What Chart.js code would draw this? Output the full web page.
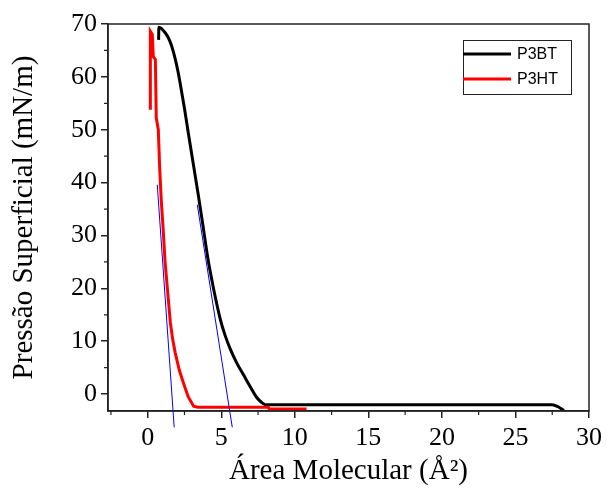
<!DOCTYPE html>
<html>
  <head>
    <meta charset="utf-8" />
    <title>Isotermas P3BT / P3HT</title>
    <style>
      body { margin: 0; background: #fff; }
      #screen { display: block; }
    </style>
  </head>
  <body>
    <canvas id="screen" width="607" height="493"></canvas>
    <script src="https://cdn.jsdelivr.net/npm/chart.js@4.4.1/dist/chart.umd.min.js"></script>
    <script>
      // valores
      const p3btArea = [0.74, 0.76, 1.2, 1.5, 1.76, 2.0, 2.2, 2.5, 2.76, 3.1, 3.43, 3.75, 4.1, 4.4, 4.65, 4.93, 5.25, 5.6, 6.05, 6.5, 6.95, 7.4, 7.75, 8.0, 10, 15, 20, 25, 27.5, 27.9, 28.3];
      const p3btPressure = [67, 69.4, 68.3, 66.8, 64.6, 61.8, 58.9, 54, 49.4, 43.5, 37.8, 32, 25.5, 21, 17.6, 14.2, 11.2, 8.6, 5.9, 3.7, 1.5, -0.6, -1.6, -2.0, -2.0, -2.0, -2.0, -2.0, -2.0, -2.4, -3.1];

      const p3htArea = [0.18, 0.18, 0.31, 0.38, 0.52, 0.58, 0.72, 0.81, 0.92, 1.04, 1.18, 1.35, 1.54, 1.7, 1.87, 2.15, 2.44, 2.75, 3.12, 3.4, 8.2, 8.25, 10.8];
      const p3htPressure = [53.8, 68.6, 68.0, 63.8, 63.3, 52.3, 50, 43, 36.7, 31.6, 25, 19.5, 13.5, 10.3, 7.8, 4.5, 2.0, -0.5, -2.3, -2.5, -2.5, -2.8, -2.8];

      // retas tangentes (extrapolacao)
      const tangentP3htArea = [0.65, 1.8];
      const tangentP3htPressure = [39.6, -6.3];
      const tangentP3btArea = [3.37, 5.75];
      const tangentP3btPressure = [35.8, -6.3];

      const xTicks = [0, 5, 10, 15, 20, 25, 30];
      const yTicks = [0, 10, 20, 30, 40, 50, 60, 70];

      const serif = "'Liberation Serif', 'Times New Roman', serif";

      function pts(xs, ys) {
        return xs.map((x, i) => ({ x: x, y: ys[i] }));
      }

      const framePlugin = {
        id: "frame",
        afterDraw(chart) {
          const c = chart.ctx;
          const a = chart.chartArea;
          const xs = chart.scales.x;
          const ys = chart.scales.y;
          c.save();
          c.strokeStyle = "#222";
          c.lineWidth = 1.5;
          c.strokeRect(a.left, a.top, a.right - a.left, a.bottom - a.top);
          // minor ticks
          c.lineWidth = 1.2;
          c.beginPath();
          for (let i = 0; i < xTicks.length - 1; i++) {
            const px = xs.getPixelForValue((xTicks[i] + xTicks[i + 1]) / 2);
            c.moveTo(px, a.bottom);
            c.lineTo(px, a.bottom + 4);
          }
          const pm = xs.getPixelForValue(-2.5);
          if (pm >= a.left) { c.moveTo(pm, a.bottom); c.lineTo(pm, a.bottom + 4); }
          for (let i = 0; i < yTicks.length - 1; i++) {
            const py = ys.getPixelForValue((yTicks[i] + yTicks[i + 1]) / 2);
            c.moveTo(a.left, py);
            c.lineTo(a.left - 4, py);
          }
          c.stroke();

          // legenda
          const lx = 463, ly = 40, lw = 108, lh = 54;
          c.fillStyle = "#fff";
          c.fillRect(lx, ly, lw, lh);
          c.strokeStyle = "#222";
          c.lineWidth = 1;
          c.strokeRect(lx + 0.5, ly + 0.5, lw, lh);
          const items = chart.data.datasets.filter(d => d.legend);
          c.font = "16px 'Liberation Sans', Arial, sans-serif";
          c.textBaseline = "middle";
          items.forEach((d, i) => {
            const y = ly + 14 + i * 25;
            c.strokeStyle = d.borderColor;
            c.lineWidth = 3;
            c.beginPath();
            c.moveTo(lx, y);
            c.lineTo(lx + 48, y);
            c.stroke();
            c.fillStyle = "#000";
            c.fillText(d.label, lx + 54, y + 1);
          });
          c.restore();
        }
      };

      const ctx = document.getElementById("screen").getContext("2d");
      const chart = new Chart(ctx, {
        type: "line",
        data: {
          datasets: [
            {
              label: "tangente P3HT",
              data: pts(tangentP3htArea, tangentP3htPressure),
              borderColor: "#0000ff",
              borderWidth: 1,
              pointRadius: 0,
              clip: false,
              order: 0
            },
            {
              label: "tangente P3BT",
              data: pts(tangentP3btArea, tangentP3btPressure),
              borderColor: "#0000ff",
              borderWidth: 1,
              pointRadius: 0,
              clip: false,
              order: 0
            },
            {
              label: "P3BT",
              legend: true,
              data: pts(p3btArea, p3btPressure),
              borderColor: "#000000",
              borderWidth: 3,
              pointRadius: 0,
              cubicInterpolationMode: "monotone",
              order: 2
            },
            {
              label: "P3HT",
              legend: true,
              data: pts(p3htArea, p3htPressure),
              borderColor: "#ff0000",
              borderWidth: 3,
              pointRadius: 0,
              order: 1
            }
          ]
        },
        options: {
          responsive: false,
          animation: false,
          layout: { padding: { left: 0, right: 17, top: 24, bottom: 0 } },
          plugins: {
            legend: { display: false },
            tooltip: { enabled: false }
          },
          scales: {
            x: {
              type: "linear",
              min: -2.7,
              max: 30,
              afterBuildTicks: s => { s.ticks = xTicks.map(v => ({ value: v })); },
              afterFit: s => { s.height = 82; },
              grid: { drawOnChartArea: false, tickLength: 7, color: "#222", lineWidth: 1.5 },
              border: { color: "#222", width: 1.5 },
              ticks: { color: "#000", padding: 5, font: { family: serif, size: 26 } },
              title: { display: true, text: "Área Molecular (Å²)", color: "#000", padding: { top: 0, bottom: 4 }, font: { family: serif, size: 29 } }
            },
            y: {
              type: "linear",
              min: -3.2,
              max: 70,
              afterBuildTicks: s => { s.ticks = yTicks.map(v => ({ value: v })); },
              afterFit: s => { s.width = 108; },
              grid: { drawOnChartArea: false, tickLength: 7, color: "#222", lineWidth: 1.5 },
              border: { color: "#222", width: 1.5 },
              ticks: { color: "#000", padding: 4, font: { family: serif, size: 26 } },
              title: { display: true, text: "Pressão Superficial (mN/m)", color: "#000", padding: { top: 7, bottom: 0 }, font: { family: serif, size: 29 } }
            }
          }
        },
        plugins: [framePlugin]
      });
    </script>
  </body>
</html>
